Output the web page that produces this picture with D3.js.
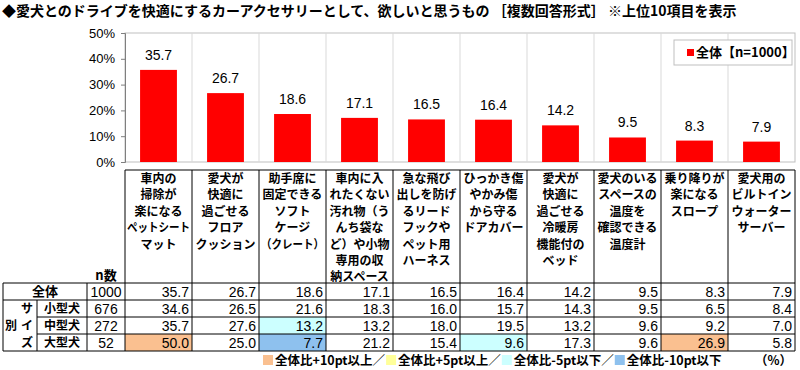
<!DOCTYPE html>
<html>
<head>
<meta charset="utf-8">
<script src="https://cdn.jsdelivr.net/npm/d3@7"></script>
<style>
  body { margin: 0; background: #fff; }
  svg text { font-family: "Liberation Sans", "Noto Sans CJK JP", sans-serif; }
  .jp { font-family: "Noto Sans CJK JP", sans-serif; font-weight: bold; }
</style>
</head>
<body>
<svg id="chart" width="800" height="370"></svg>
<script>
// chart data
const categories = [
  ['車内の', '掃除が', '楽になる', 'ペットシート', 'マット'],
  ['愛犬が', '快適に', '過ごせる', 'フロア', 'クッション'],
  ['助手席に', '固定できる', 'ソフト', 'ケージ', '（クレート）'],
  ['車内に入', 'れたくない', '汚れ物（う', 'んち袋な', 'ど）や小物', '専用の収', '納スペース'],
  ['急な飛び', '出しを防げ', 'るリード', 'フックや', 'ペット用', 'ハーネス'],
  ['ひっかき傷', 'やかみ傷', 'から守る', 'ドアカバー'],
  ['愛犬が', '快適に', '過ごせる', '冷暖房', '機能付の', 'ベッド'],
  ['愛犬のいる', 'スペースの', '温度を', '確認できる', '温度計'],
  ['乗り降りが', '楽になる', 'スロープ'],
  ['愛犬用の', 'ビルトイン', 'ウォーター', 'サーバー']
];
const overall = [35.7, 26.7, 18.6, 17.1, 16.5, 16.4, 14.2, 9.5, 8.3, 7.9];
const small   = [34.6, 26.5, 21.6, 18.3, 16.0, 15.7, 14.3, 9.5, 6.5, 8.4];
const medium  = [35.7, 27.6, 13.2, 13.2, 18.0, 19.5, 13.2, 9.6, 9.2, 7.0];
const large   = [50.0, 25.0, 7.7, 21.2, 15.4, 9.6, 17.3, 9.6, 26.9, 5.8];
const rowNames = ['全体', '小型犬', '中型犬', '大型犬'];
const rowN = [1000, 676, 272, 52];
const yTicks = [0, 10, 20, 30, 40, 50];
const legendLabel = '全体【n=1000】';
const diffLegend = ['全体比+10pt以上／', '全体比+5pt以上／', '全体比-5pt以下／', '全体比-10pt以下'];
const diffColors = ['#FAC090', '#FFFF99', '#CCFFFF', '#8EC1EE'];

const svg = d3.select('#chart');

// title
svg.append('text').attr('class', 'jp').attr('x', 2).attr('y', 16).attr('font-size', 14)
  .text('◆愛犬とのドライブを快適にするカーアクセサリーとして、欲しいと思うもの ［複数回答形式］ ※上位10項目を表示');

// scales
const x = d3.scaleBand().domain(d3.range(categories.length)).range([125, 795]);
const y = d3.scaleLinear().domain([0, 50]).range([162, 33]);
const barW = x.bandwidth() * 0.55;

// plot frame + vertical separators
svg.append('rect').attr('x', 125).attr('y', y(50)).attr('width', 670).attr('height', y(0) - y(50))
  .attr('fill', 'none').attr('stroke', '#bfbfbf');
svg.selectAll('.vgrid').data(d3.range(1, categories.length)).join('line')
  .attr('x1', d => x(d)).attr('x2', d => x(d)).attr('y1', y(50)).attr('y2', y(0))
  .attr('stroke', '#d9d9d9');

// bars
svg.selectAll('.bar').data(overall).join('rect')
  .attr('x', (d, i) => x(i) + (x.bandwidth() - barW) / 2)
  .attr('y', d => y(d)).attr('width', barW).attr('height', d => y(0) - y(d))
  .attr('fill', '#ff0000');
svg.selectAll('.blabel').data(overall).join('text')
  .attr('x', (d, i) => x(i) + x.bandwidth() / 2).attr('y', d => y(d) - 10)
  .attr('text-anchor', 'middle').attr('font-size', 14).text(d => d.toFixed(1));

// y axis
const yAxis = svg.append('g').attr('transform', 'translate(125,0)')
  .call(d3.axisLeft(y).tickValues(yTicks).tickFormat(d => d + '%').tickSize(4).tickPadding(6));
yAxis.select('.domain').attr('stroke', '#7f7f7f');
yAxis.selectAll('.tick line').attr('stroke', '#7f7f7f');
yAxis.selectAll('.tick text').attr('font-size', 13).attr('fill', '#000')
  .attr('font-family', '"Liberation Sans", sans-serif');

// legend box
svg.append('rect').attr('x', 674).attr('y', 40).attr('width', 118).attr('height', 25)
  .attr('fill', '#fff').attr('stroke', '#bfbfbf');
svg.append('rect').attr('x', 687).attr('y', 49).attr('width', 7).attr('height', 7).attr('fill', '#ff0000');
svg.append('text').attr('class', 'jp').attr('x', 696).attr('y', 57).attr('font-size', 13).text(legendLabel);

// table
const tTop = 170, hBottom = 283, rowH = 17;
const rowsData = [overall, small, medium, large];
const rowY = i => hBottom + i * rowH;

// category header text
categories.forEach((lines, i) => {
  lines.forEach((ln, j) => {
    const t = svg.append('text').attr('class', 'jp').attr('font-size', 12)
      .attr('x', x(i) + x.bandwidth() / 2).attr('y', tTop + 13 + j * 16.4)
      .attr('text-anchor', 'middle').text(ln);
    if (t.node().getComputedTextLength() > x.bandwidth() - 4) {
      t.attr('textLength', x.bandwidth() - 4).attr('lengthAdjust', 'spacingAndGlyphs');
    }
  });
});
svg.append('text').attr('class', 'jp').attr('x', 106).attr('y', hBottom - 3).attr('font-size', 13)
  .attr('text-anchor', 'middle').text('n数');

// highlight cells
const diffClass = (v, base) => {
  const d = v - base;
  if (d >= 10) return 0;
  if (d >= 5) return 1;
  if (d <= -10) return 3;
  if (d <= -5) return 2;
  return -1;
};
rowsData.forEach((vals, r) => {
  if (r === 0) return;
  vals.forEach((v, i) => {
    const c = diffClass(v, overall[i]);
    if (c >= 0) {
      svg.append('rect').attr('x', x(i)).attr('y', rowY(r)).attr('width', x.bandwidth())
        .attr('height', rowH).attr('fill', diffColors[c]);
    }
  });
});

// table values
rowsData.forEach((vals, r) => {
  svg.selectAll('.v' + r).data(vals).join('text')
    .attr('x', (d, i) => x(i) + x.bandwidth() - 3).attr('y', rowY(r) + 14)
    .attr('text-anchor', 'end').attr('font-size', 14).text(d => d.toFixed(1));
  svg.append('text').attr('x', 106).attr('y', rowY(r) + 14).attr('text-anchor', 'middle')
    .attr('font-size', 14).text(rowN[r]);
  svg.append('text').attr('class', 'jp').attr('font-size', r === 0 ? 13 : 12)
    .attr('x', r === 0 ? 45 : 62).attr('y', rowY(r) + 13).attr('text-anchor', 'middle').text(rowNames[r]);
});
['サ', 'イ', 'ズ'].forEach((ch, k) => {
  svg.append('text').attr('class', 'jp').attr('font-size', 12)
    .attr('x', 27).attr('y', rowY(k + 1) + 13).attr('text-anchor', 'middle').text(ch);
});
svg.append('text').attr('class', 'jp').attr('font-size', 12)
  .attr('x', 11).attr('y', rowY(2) + 13).attr('text-anchor', 'middle').text('別');

// table grid lines
const g = svg.append('g').attr('stroke', '#000').attr('stroke-width', 1);
const tBottom = rowY(4);
g.append('line').attr('x1', 125).attr('x2', 795).attr('y1', tTop).attr('y2', tTop);
d3.range(0, 5).forEach(r => {
  const x0 = (r === 2 || r === 3) ? 37 : 3;
  g.append('line').attr('x1', x0).attr('x2', 795).attr('y1', rowY(r)).attr('y2', rowY(r));
});
d3.range(0, categories.length + 1).forEach(i => {
  const xx = i < categories.length ? x(i) : 795;
  g.append('line').attr('x1', xx).attr('x2', xx).attr('y1', tTop).attr('y2', tBottom);
});
g.append('line').attr('x1', 3).attr('x2', 3).attr('y1', hBottom).attr('y2', tBottom);
g.append('line').attr('x1', 87).attr('x2', 87).attr('y1', hBottom).attr('y2', tBottom);
g.append('line').attr('x1', 37).attr('x2', 37).attr('y1', rowY(1)).attr('y2', tBottom);

// diff legend
let lx = 263;
diffLegend.forEach((lab, k) => {
  svg.append('rect').attr('x', lx).attr('y', 355).attr('width', 10).attr('height', 10).attr('fill', diffColors[k]);
  const t = svg.append('text').attr('class', 'jp').attr('font-size', 12.5)
    .attr('x', lx + 12).attr('y', 365).text(lab);
  lx += 12 + t.node().getComputedTextLength() + 1;
});
svg.append('text').attr('class', 'jp').attr('font-size', 12.5).attr('x', 792).attr('y', 365)
  .attr('text-anchor', 'end').text('（%）');
</script>
</body>
</html>
